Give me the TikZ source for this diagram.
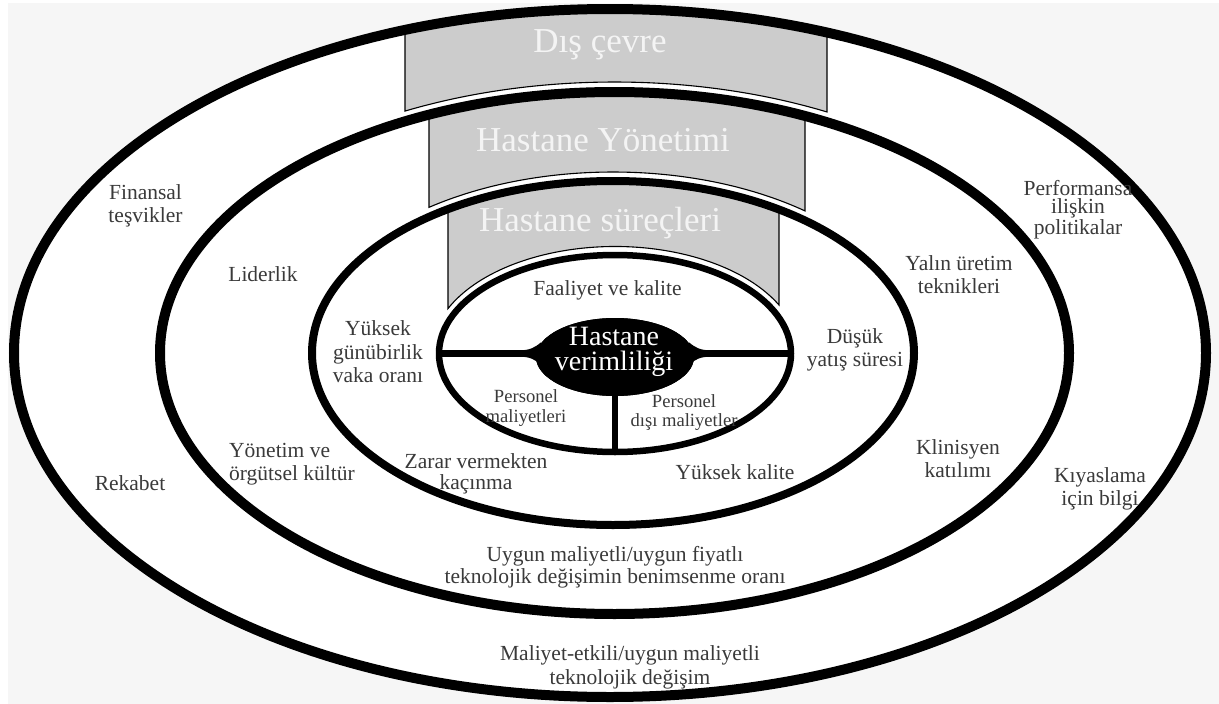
\documentclass[tikz,border=0pt]{standalone}
\usepackage{fontspec}
\setmainfont{Liberation Serif}
\usetikzlibrary{shapes.geometric}
\definecolor{pagegray}{RGB}{246,246,246}
\definecolor{bandgray}{RGB}{204,204,204}
\definecolor{labelgray}{RGB}{58,58,58}
\definecolor{bandtext}{RGB}{244,244,244}

\tikzset{
  ringline/.style={draw=black, line width=#1, ellipse, inner sep=0pt},
  band/.style={fill=bandgray, draw=black, line width=1.1pt},
  lbl/.style={text=labelgray, align=center, inner sep=0pt, font=\fontsize{21.5}{23}\selectfont},
  smalllbl/.style={text=labelgray, align=center, inner sep=0pt, font=\fontsize{18.6}{19.5}\selectfont},
  bandlbl/.style={text=bandtext, inner sep=0pt, font=\fontsize{35}{40}\selectfont},
  spoke/.style={draw=black, line width=6.5pt},
}

% a grey banner bounded left/right by vertical edges and below by an elliptic arc
% #1,#2: left/right x; #3,#4: arc centre; #5,#6: arc radii
\newcommand{\banner}[6]{%
  \pgfmathsetmacro\tL{360-acos((#1-#3)/#5)}%
  \pgfmathsetmacro\tR{360-acos((#2-#3)/#5)}%
  \pgfmathsetmacro\yL{#4+#6*sin(\tL)}%
  \pgfmathsetmacro\yR{#4+#6*sin(\tR)}%
  \filldraw[band] (#1,-20) -- (#1,\yL)
    arc[start angle=\tL, end angle=\tR, x radius=#5, y radius=#6]
    -- (#2,-20) -- cycle;%
}

\begin{document}
\begin{tikzpicture}[x=1pt,y=-1pt]
\useasboundingbox (0,0) rectangle (1219,704);
\fill[white] (0,0) rectangle (1219,704);
\fill[pagegray] (8,3) rectangle (1219,704);

% white interior of the outermost ring
\fill[white] (610,353) ellipse [x radius=596, y radius=344];

% banners, each clipped by the ring it hangs from
\begin{scope}
  \clip (610,353) ellipse [x radius=596, y radius=344];
  \banner{405}{827}{614.5}{353}{465}{271}
\end{scope}
\begin{scope}
  \clip (614.5,353) ellipse [x radius=454.5, y radius=261];
  \banner{429}{805}{613}{353}{310}{181}
\end{scope}
\begin{scope}
  \clip (613,353) ellipse [x radius=301, y radius=172];
  \banner{448}{779}{615}{353.5}{184}{107}
\end{scope}

% the four rings
\node[ringline=10pt, minimum width=1192pt, minimum height=688pt] (ring1) at (610,353) {};
\node[ringline=10pt, minimum width=909pt, minimum height=522pt] (ring2) at (614.5,353) {};
\node[ringline=8pt, minimum width=602pt, minimum height=344pt] (ring3) at (613,353) {};
\node[ringline=6.5pt, minimum width=352pt, minimum height=197pt] (ring4) at (615,353.5) {};

% centre ellipse and its three spokes
\node[ellipse, fill=black, inner sep=0pt, minimum width=158pt, minimum height=78pt] (core) at (615,357) {};
\draw[spoke] (ring4.west) -- (ring4.west -| core.center);
\draw[spoke] (ring4.east) -- (ring4.east -| core.center);
\draw[spoke] (core.center) -- (ring4.south);
\node[ellipse, fill=black, inner sep=0pt, minimum width=158pt, minimum height=78pt] at (core.center) {};
\coordinate (lj) at (ring4.west -| core.west);
\coordinate (rj) at (ring4.east -| core.east);
\fill ([xshift=-16pt,yshift=3.2pt]lj) .. controls +(10pt,0pt) and +(-6pt,-5pt) .. ([xshift=5pt,yshift=11pt]lj)
  -- ([xshift=5pt,yshift=-11pt]lj) .. controls +(-6pt,5pt) and +(10pt,0pt) .. ([xshift=-16pt,yshift=-3.2pt]lj) -- cycle;
\fill ([xshift=16pt,yshift=3.2pt]rj) .. controls +(-10pt,0pt) and +(6pt,-5pt) .. ([xshift=-5pt,yshift=11pt]rj)
  -- ([xshift=-5pt,yshift=-11pt]rj) .. controls +(6pt,5pt) and +(-10pt,0pt) .. ([xshift=16pt,yshift=-3.2pt]rj) -- cycle;
\node[text=white, align=center, inner sep=0pt, font=\fontsize{28}{25}\selectfont] (coretext) at (614,352) {Hastane\\verimliliği};

% banner titles
\node[bandlbl] (envtitle) at (600,45) {Dış çevre};
\node[bandlbl] (mgmttitle) at (603,140) {Hastane Yönetimi};
\node[bandlbl] (proctitle) at (600,223.5) {Hastane süreçleri};

% outer ring
\node[lbl] (fin) at (145.5,205.4) {Finansal\\teşvikler};
\node[lbl] (rek) at (130,483) {Rekabet};
\node[lbl, font=\fontsize{21.5}{18}\selectfont] (perf) at (1078,209.5) {Performansa\\ilişkin\\politikalar};
\node[lbl] (kiy) at (1100,489) {Kıyaslama\\için bilgi};
\node[lbl, font=\fontsize{21.5}{24}\selectfont] (mal) at (630,667) {Maliyet-etkili/uygun maliyetli\\teknolojik değişim};

% second ring
\node[lbl] (lid) at (263,274.6) {Liderlik};
\node[lbl, align=left, anchor=west] (ynt) at (229,464.5) {Yönetim ve\\örgütsel kültür};
\node[lbl] (yalin) at (959,274.5) {Yalın üretim\\teknikleri};
\node[lbl] (klin) at (958,459) {Klinisyen\\katılımı};
\node[lbl, font=\fontsize{21.5}{22}\selectfont] (uyg) at (615,567) {Uygun maliyetli/uygun fiyatlı\\teknolojik değişimin benimsenme oranı};

% third ring
\node[lbl, font=\fontsize{21.5}{23.5}\selectfont] (yuk) at (378,352) {Yüksek\\günübirlik\\vaka oranı};
\node[lbl] (dus) at (855,350) {Düşük\\yatış süresi};
\node[lbl, font=\fontsize{21.5}{21}\selectfont] (zarar) at (476,474) {Zarar vermekten\\kaçınma};
\node[lbl] (yk) at (735,472) {Yüksek kalite};

% inner ring
\node[lbl] (faal) at (607.5,290) {Faaliyet ve kalite};
\node[smalllbl] (pm) at (526,408) {Personel\\maliyetleri};
\node[smalllbl] (pdm) at (684,412.5) {Personel\\dışı maliyetler};
\end{tikzpicture}
\end{document}
